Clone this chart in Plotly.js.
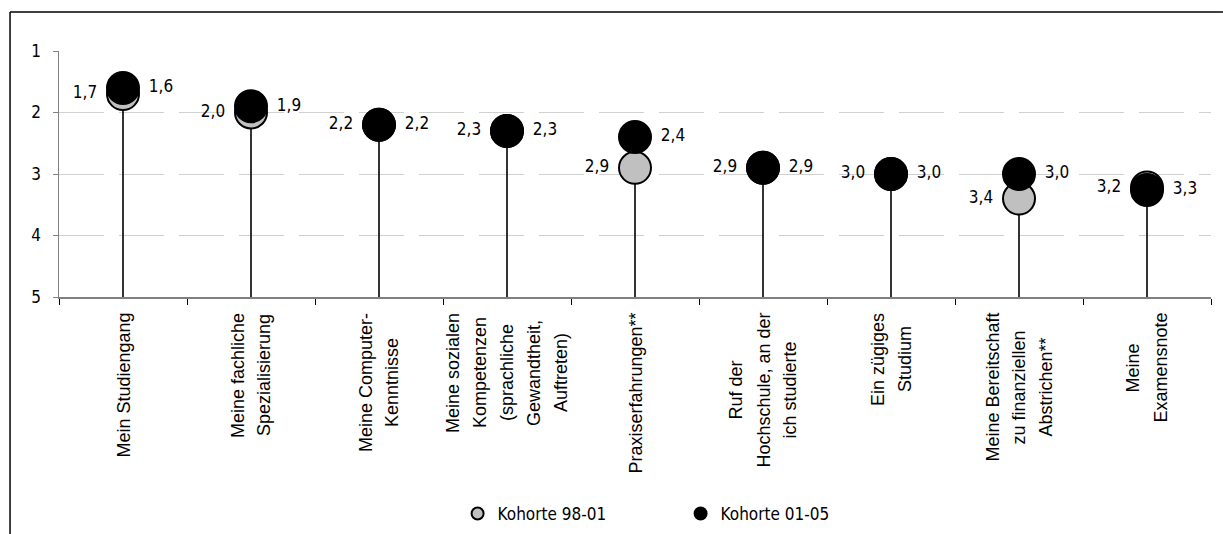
<!DOCTYPE html>
<html>
<head>
<meta charset="utf-8">
<script src="https://cdn.plot.ly/plotly-3.0.1.min.js"></script>
<style>html,body{margin:0;padding:0;background:#fff;}#chart{width:1223px;height:534px;}</style>
</head>
<body>
<div id="chart"></div>
<script>
// ---- data ----
const categories = [
  "Mein Studiengang",
  "Meine fachliche<br>Spezialisierung",
  "Meine Computer-<br>Kenntnisse",
  "Meine sozialen<br>Kompetenzen<br>(sprachliche<br>Gewandtheit,<br>Auftreten)",
  "Praxiserfahrungen**",
  "Ruf der<br>Hochschule, an der<br>ich studierte",
  "Ein zügiges<br>Studium",
  "Meine Bereitschaft<br>zu finanziellen<br>Abstrichen**",
  "Meine<br>Examensnote"
];
const kohorte9801 = [1.7, 2.0, 2.2, 2.3, 2.9, 2.9, 3.0, 3.4, 3.22];
const kohorte0105 = [1.6, 1.9, 2.2, 2.3, 2.4, 2.9, 3.0, 3.0, 3.26];
const seriesNames = ["Kohorte 98-01", "Kohorte 01-05"];
const yTicks = [1, 2, 3, 4, 5];
const axisBottom = 5;

const fmt = v => v.toFixed(1).replace('.', ',');
const narrow = "'DejaVu Sans Condensed', 'Liberation Sans Narrow', sans-serif";
const regular = "'Liberation Sans', Arial, sans-serif";
const catFontSize = 18;
const catLineGap = 27;
const xIdx = categories.map((c, i) => i);

const traceGray = {
  type: 'scatter', mode: 'markers+text', name: seriesNames[0],
  x: xIdx, y: kohorte9801,
  text: kohorte9801.map(v => fmt(v) + ' '), textposition: 'middle left',
  textfont: {family: narrow, size: 17, color: '#000'},
  marker: {size: 32, color: '#c0c0c0', line: {color: '#000', width: 2}},
  error_y: {type: 'data', symmetric: false, array: kohorte9801.map(v => axisBottom - v), arrayminus: kohorte9801.map(() => 0), color: '#000', thickness: 1.6, width: 0},
  cliponaxis: false, hoverinfo: 'skip'
};
const traceBlack = {
  type: 'scatter', mode: 'markers+text', name: seriesNames[1],
  x: xIdx, y: kohorte0105,
  text: kohorte0105.map(v => ' ' + fmt(v)), textposition: 'middle right',
  textfont: {family: narrow, size: 17, color: '#000'},
  marker: {size: 32, color: '#000', line: {color: '#000', width: 2}},
  cliponaxis: false, hoverinfo: 'skip'
};

// category labels: one rotated annotation per line, centred within the block
const ctx = document.createElement('canvas').getContext('2d');
ctx.font = catFontSize + "px 'Liberation Sans', Arial, sans-serif";
const annotations = [];
categories.forEach((c, i) => {
  const lines = c.split('<br>');
  const widths = lines.map(l => ctx.measureText(l).width);
  const maxW = Math.max.apply(null, widths);
  lines.forEach((l, j) => {
    annotations.push({
      x: i, xref: 'x', y: 0, yref: 'paper', yanchor: 'top', xanchor: 'center',
      xshift: (j - (lines.length - 1) / 2) * catLineGap,
      yshift: -14 - (maxW - widths[j]) / 2,
      text: l, textangle: -90, showarrow: false,
      font: {family: regular, size: catFontSize, color: '#000'}
    });
  });
});

const layout = {
  width: 1223, height: 534,
  margin: {l: 59, r: 12, t: 51, b: 237, autoexpand: false},
  paper_bgcolor: '#fff', plot_bgcolor: '#fff',
  showlegend: true,
  legend: {orientation: 'h', x: 0.346, xanchor: 'left', y: -0.882, yanchor: 'middle',
    itemsizing: 'constant', font: {family: narrow, size: 17, color: '#000'},
    entrywidth: 178, entrywidthmode: 'pixels', bgcolor: 'rgba(0,0,0,0)'},
  xaxis: {type: 'linear', range: [-0.5, categories.length - 0.5], tickvals: xIdx.slice(1).map(i => i - 0.5).concat([-0.5, categories.length - 0.5]),
    ticks: 'outside', ticklen: 6, tickcolor: '#000', tickwidth: 1,
    showticklabels: false, showline: true, linecolor: '#808080', linewidth: 1.5,
    showgrid: false, zeroline: false, fixedrange: true},
  yaxis: {range: [5, 1], tickvals: yTicks, ticktext: yTicks.map(String),
    ticks: 'outside', ticklen: 5, tickcolor: '#808080', ticklabelstandoff: 8,
    showline: true, linecolor: '#808080', linewidth: 1.5,
    showgrid: true, gridcolor: '#d0d0d0', griddash: '45px,15px', gridwidth: 1,
    zeroline: false, tickfont: {family: narrow, size: 17, color: '#000'}, fixedrange: true},
  annotations: annotations,
  shapes: [
    {type: 'line', xref: 'paper', yref: 'paper', x0: -0.0425, x1: 1.0104, y0: 1.1585, y1: 1.1585, line: {color: '#000', width: 1.5}},
    {type: 'line', xref: 'paper', yref: 'paper', x0: -0.0425, x1: -0.0425, y0: 1.1585, y1: -0.9634, line: {color: '#000', width: 1.5}}
  ]
};

Plotly.newPlot('chart', [traceGray, traceBlack], layout, {staticPlot: true, displayModeBar: false});
</script>
</body>
</html>
